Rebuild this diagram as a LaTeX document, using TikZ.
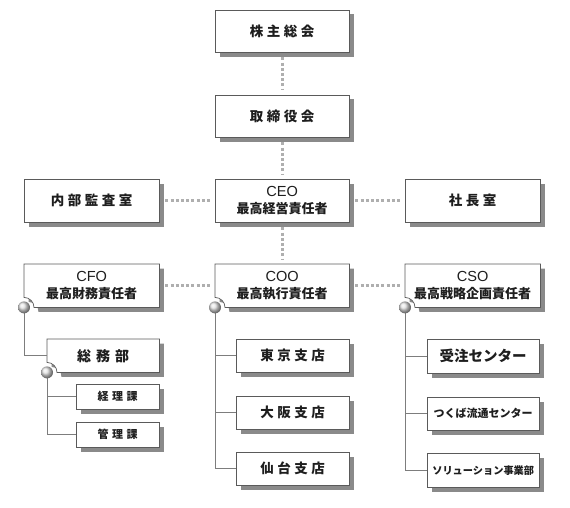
\documentclass[tikz,border=0pt]{standalone}
\usepackage{fontspec}
\newfontfamily\jp{Noto Sans CJK JP}
\newfontfamily\lat{Liberation Sans}
\usetikzlibrary{backgrounds,calc}
\definecolor{shd}{RGB}{138,138,138}
\definecolor{frm}{RGB}{90,90,90}
\definecolor{dotc}{RGB}{175,175,175}
\definecolor{lnk}{RGB}{125,125,125}
\definecolor{txt}{RGB}{30,30,30}
\newcommand\gp[1][3.5pt]{\hspace{#1}}
\newcommand\en[1]{{\lat\mdseries\fontsize{13.5}{16.5}\selectfont\resizebox{1.08\width}{!}{#1}}}
\newcommand\frameplain[1]{%
  \fill[shd] ([shift={(4.5,4.5)}]#1.north west) rectangle ([shift={(4.5,4.5)}]#1.south east);
  \draw[boxline] (#1.north west) rectangle (#1.south east);}
\newcommand\framenotch[1]{%
  \fill[shd] ([shift={(4.5,4.5)}]#1.north west) -- ([shift={(4.5,4.5)}]#1.north east)
     -- ([shift={(4.5,4.5)}]#1.south east) -- ([shift={(14.5,4.5)}]#1.south west)
     arc[start angle=0,end angle=90,radius=10pt] -- cycle;
  \draw[boxline] (#1.north west) -- (#1.north east) -- (#1.south east)
     -- ([xshift=10pt]#1.south west) arc[start angle=0,end angle=90,radius=10pt] -- cycle;}
\newcommand\orgball[1]{\shade[ball color=gray!22] (#1.south west) circle[radius=6pt];}
\tikzset{
  lbl/.style={font=\jp\bfseries, text=txt, inner sep=0pt, anchor=north west, align=center},
  boxline/.style={draw=frm, line width=0.7pt, fill=white},
  dots/.style={draw=dotc, line width=3pt, dash pattern=on 3pt off 2.2pt},
  link/.style={draw=lnk, line width=0.9pt},
  big/.style={font=\jp\bfseries\fontsize{13.5}{14}\selectfont},
  two/.style={font=\jp\bfseries\fontsize{13}{16.5}\selectfont},
  small/.style={font=\jp\bfseries\fontsize{11}{12}\selectfont},
}
\begin{document}
\begin{tikzpicture}[x=1pt,y=-1pt]
\useasboundingbox (0,0) rectangle (570,508);
% top chain
\node[lbl,big,minimum width=134pt,minimum height=42pt] (kabu) at (215,10) {株\gp 主\gp 総\gp 会};
\node[lbl,big,minimum width=134pt,minimum height=42pt] (tori) at (215,95) {取\gp 締\gp 役\gp 会};
\node[lbl,big,minimum width=135pt,minimum height=43pt] (naibu) at (24,179) {内\gp 部\gp 監\gp 査\gp 室};
\node[lbl,two,minimum width=134pt,minimum height=43pt] (ceo) at (215,179) {\en{CEO}\\最高経営責任者};
\node[lbl,big,minimum width=135pt,minimum height=43pt] (shacho) at (405,179) {社\gp 長\gp 室};
\node[lbl,two,minimum width=135pt,minimum height=43pt] (cfo) at (24,264) {\en{CFO}\\最高財務責任者};
\node[lbl,two,minimum width=134pt,minimum height=43pt] (coo) at (215,264) {\en{COO}\\最高執行責任者};
\node[lbl,two,minimum width=135pt,minimum height=43pt] (cso) at (405,264) {\en{CSO}\\最高戦略企画責任者};
% CFO branch
\node[lbl,font=\jp\bfseries\fontsize{14}{14}\selectfont,minimum width=112pt,minimum height=33pt] (somu) at (47,339) {総\gp[5pt]務\gp[5pt]部};
\node[lbl,small,minimum width=83pt,minimum height=25pt] (keiri) at (76,384) {経\gp 理\gp 課};
\node[lbl,small,minimum width=83pt,minimum height=25pt] (kanri) at (76,422) {管\gp 理\gp 課};
% COO branch
\node[lbl,big,minimum width=113pt,minimum height=33pt] (tokyo) at (236,339) {東\gp 京\gp 支\gp 店};
\node[lbl,big,minimum width=113pt,minimum height=33pt] (osaka) at (236,396) {大\gp 阪\gp 支\gp 店};
\node[lbl,big,minimum width=113pt,minimum height=33pt] (sendai) at (236,452) {仙\gp 台\gp 支\gp 店};
% CSO branch
\node[lbl,font=\jp\bfseries\fontsize{14.5}{15}\selectfont,minimum width=112pt,minimum height=34pt] (juchu) at (427,339) {受注センター};
\node[lbl,font=\jp\bfseries\fontsize{11}{12}\selectfont,minimum width=112pt,minimum height=33pt] (tsukuba) at (427,397) {つくば流通センター};
\node[lbl,font=\jp\bfseries\fontsize{10.2}{11}\selectfont,minimum width=112pt,minimum height=34pt] (sol) at (427,453) {ソリューション事業部};
\begin{pgfonlayer}{background}
\foreach \n in {kabu,tori,naibu,ceo,shacho,keiri,kanri,tokyo,osaka,sendai,juchu,tsukuba,sol}{\frameplain{\n}}
\foreach \n in {cfo,coo,cso,somu}{\framenotch{\n}}
\end{pgfonlayer}
% dotted connectors
\draw[dots,shorten <=5pt,shorten >=5pt] (kabu.south) -- (tori.north);
\draw[dots,shorten <=5pt,shorten >=5pt] (tori.south) -- (ceo.north);
\draw[dots,shorten <=5pt,shorten >=5pt] (ceo.south) -- (coo.north);
\draw[dots,shorten <=6pt,shorten >=5pt] (naibu.east) -- (ceo.west);
\draw[dots,shorten <=6pt,shorten >=5pt] (ceo.east) -- (shacho.west);
\draw[dots,shorten <=6pt,shorten >=5pt] (cfo.east) -- (coo.west);
\draw[dots,shorten <=6pt,shorten >=5pt] (coo.east) -- (cso.west);
% solid links
\draw[link] (cfo.south west) |- (somu.west);
\draw[link] (somu.south west) |- (keiri.west);
\draw[link] (somu.south west) |- (kanri.west);
\draw[link] (coo.south west) |- (tokyo.west);
\draw[link] (coo.south west) |- (osaka.west);
\draw[link] (coo.south west) |- (sendai.west);
\draw[link] (cso.south west) |- (juchu.west);
\draw[link] (cso.south west) |- (tsukuba.west);
\draw[link] (cso.south west) |- (sol.west);
\foreach \n in {cfo,coo,cso,somu}{\orgball{\n}}
\end{tikzpicture}
\end{document}
